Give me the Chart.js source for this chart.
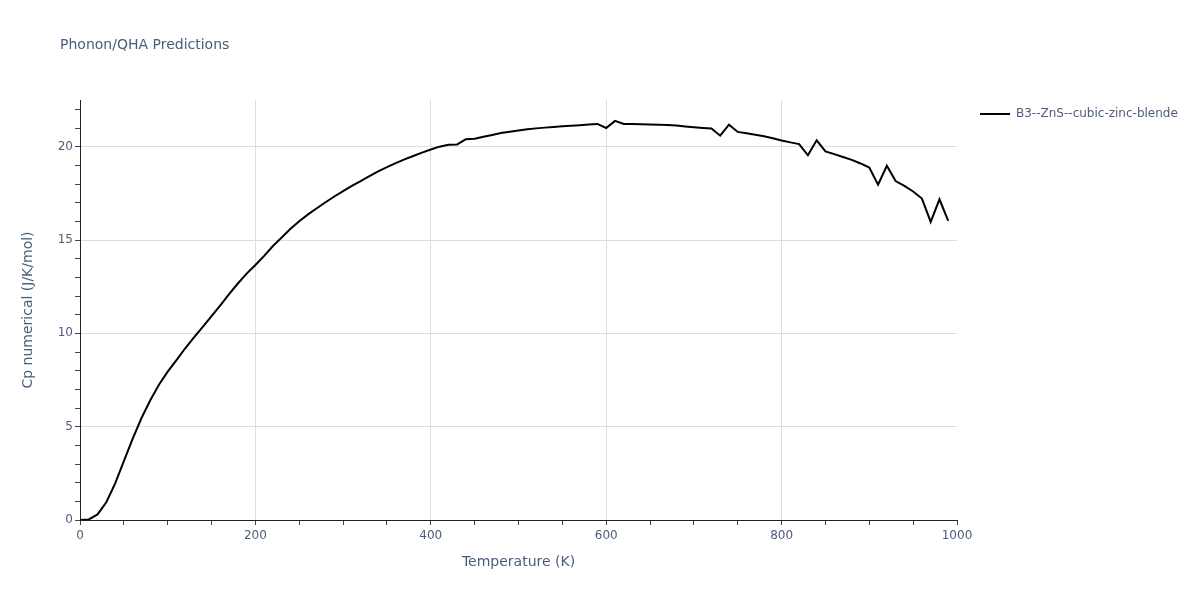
<!DOCTYPE html>
<html lang="en">
<head>
  <meta charset="UTF-8" />
  <title>Phonon/QHA Predictions</title>
  <script src="https://cdn.jsdelivr.net/npm/chart.js"></script>
  <style>
    html, body { margin: 0; padding: 0; background: #fff; }
  </style>
</head>
<body>
  <canvas id="cpChart" width="1200" height="600"></canvas>

  <script>
    // temperatures (K), one point every 10 K
    const temps = [
      0, 10, 20, 30, 40, 50, 60, 70, 80, 90,
      100, 110, 120, 130, 140, 150, 160, 170, 180, 190,
      200, 210, 220, 230, 240, 250, 260, 270, 280, 290,
      300, 310, 320, 330, 340, 350, 360, 370, 380, 390,
      400, 410, 420, 430, 440, 450, 460, 470, 480, 490,
      500, 510, 520, 530, 540, 550, 560, 570, 580, 590,
      600, 610, 620, 630, 640, 650, 660, 670, 680, 690,
      700, 710, 720, 730, 740, 750, 760, 770, 780, 790,
      800, 810, 820, 830, 840, 850, 860, 870, 880, 890,
      900, 910, 920, 930, 940, 950, 960, 970, 980, 990
    ];
    // Cp numerical (J/K/mol)
    const cpValues = [
      0, 0.03, 0.3, 0.95, 1.95, 3.15, 4.35, 5.45, 6.4, 7.25,
      7.95, 8.57, 9.2, 9.78, 10.35, 10.92, 11.5, 12.1, 12.67, 13.2,
      13.66, 14.15, 14.68, 15.13, 15.6, 16.0, 16.37, 16.7, 17.02, 17.33,
      17.62, 17.9, 18.15, 18.42, 18.68, 18.9, 19.12, 19.32, 19.5, 19.68,
      19.85, 20.0, 20.1, 20.12, 20.4, 20.43, 20.53, 20.63, 20.73, 20.8,
      20.87, 20.93, 20.98, 21.02, 21.05, 21.09, 21.12, 21.15, 21.19, 21.22,
      21.0, 21.38, 21.22, 21.21, 21.2, 21.19, 21.18, 21.16, 21.13, 21.08,
      21.04, 21.0, 20.97, 20.59, 21.18, 20.79, 20.72, 20.64, 20.56, 20.45,
      20.33, 20.23, 20.14, 19.54, 20.34, 19.75, 19.6, 19.45, 19.29, 19.1,
      18.88, 17.96, 18.98, 18.16, 17.9, 17.6, 17.22, 15.97, 17.18, 16.02
    ];
    const seriesName = 'B3--ZnS--cubic-zinc-blende';

    // tick marks every 50 K / 1 unit, labels + grid every 200 K / 5 units
    const xTicks = [];
    for (let t = 0; t <= 1000; t += 50) xTicks.push(t);
    const yTicks = [];
    for (let v = 0; v <= 22; v += 1) yTicks.push(v);

    const textColor = '#4b5d7c';
    const fontFamily = '"DejaVu Sans", Verdana, sans-serif';

    // title and legend drawn plotly-style
    const decorations = {
      id: 'decorations',
      afterDraw(chart) {
        const ctx = chart.ctx;
        ctx.save();
        ctx.fillStyle = textColor;
        ctx.font = '14px ' + fontFamily;
        ctx.textBaseline = 'middle';
        ctx.textAlign = 'left';
        ctx.fillText('Phonon/QHA Predictions', 60, 45);

        ctx.strokeStyle = '#000';
        ctx.lineWidth = 2;
        ctx.beginPath();
        ctx.moveTo(980, 114);
        ctx.lineTo(1010, 114);
        ctx.stroke();
        ctx.font = '12px ' + fontFamily;
        ctx.fillText(seriesName, 1016, 114);
        ctx.restore();
      }
    };

    new Chart(document.getElementById('cpChart'), {
      type: 'line',
      data: {
        datasets: [{
          label: seriesName,
          data: temps.map((t, i) => ({ x: t, y: cpValues[i] })),
          borderColor: '#000',
          borderWidth: 2,
          pointRadius: 0,
          tension: 0,
          fill: false
        }]
      },
      options: {
        responsive: false,
        animation: false,
        layout: { padding: { left: 0, right: 243, top: 100, bottom: 0 } },
        plugins: {
          legend: { display: false },
          title: { display: false },
          tooltip: { enabled: false }
        },
        scales: {
          x: {
            type: 'linear',
            min: 0,
            max: 1000,
            afterBuildTicks: axis => { axis.ticks = xTicks.map(v => ({ value: v })); },
            afterFit: scale => { scale.height = 80; },
            border: { color: '#222', width: 1 },
            grid: {
              color: c => (c.tick && c.tick.value % 200 === 0 && c.tick.value > 0 && c.tick.value < 1000) ? '#dedede' : 'rgba(0,0,0,0)',
              tickColor: '#444',
              tickLength: 5,
              lineWidth: 1
            },
            ticks: {
              autoSkip: false,
              maxRotation: 0,
              padding: 4,
              color: textColor,
              font: { family: fontFamily, size: 12 },
              callback: v => (v % 200 === 0 ? String(v) : '')
            },
            title: {
              display: true,
              text: 'Temperature (K)',
              color: textColor,
              font: { family: fontFamily, size: 14 },
              padding: { top: 0, bottom: 29 }
            }
          },
          y: {
            type: 'linear',
            min: 0,
            max: 22.5,
            afterBuildTicks: axis => { axis.ticks = yTicks.map(v => ({ value: v })); },
            afterFit: scale => { scale.width = 80; },
            border: { color: '#222', width: 1 },
            grid: {
              color: c => (c.tick && c.tick.value % 5 === 0 && c.tick.value > 0) ? '#dedede' : 'rgba(0,0,0,0)',
              tickColor: '#444',
              tickLength: 5,
              lineWidth: 1
            },
            ticks: {
              autoSkip: false,
              padding: 2,
              color: textColor,
              font: { family: fontFamily, size: 12 },
              callback: v => (v % 5 === 0 ? String(v) : '')
            },
            title: {
              display: true,
              text: 'Cp numerical (J/K/mol)',
              color: textColor,
              font: { family: fontFamily, size: 14 },
              padding: { top: 20, bottom: 0 }
            }
          }
        }
      },
      plugins: [decorations]
    });
  </script>
</body>
</html>
